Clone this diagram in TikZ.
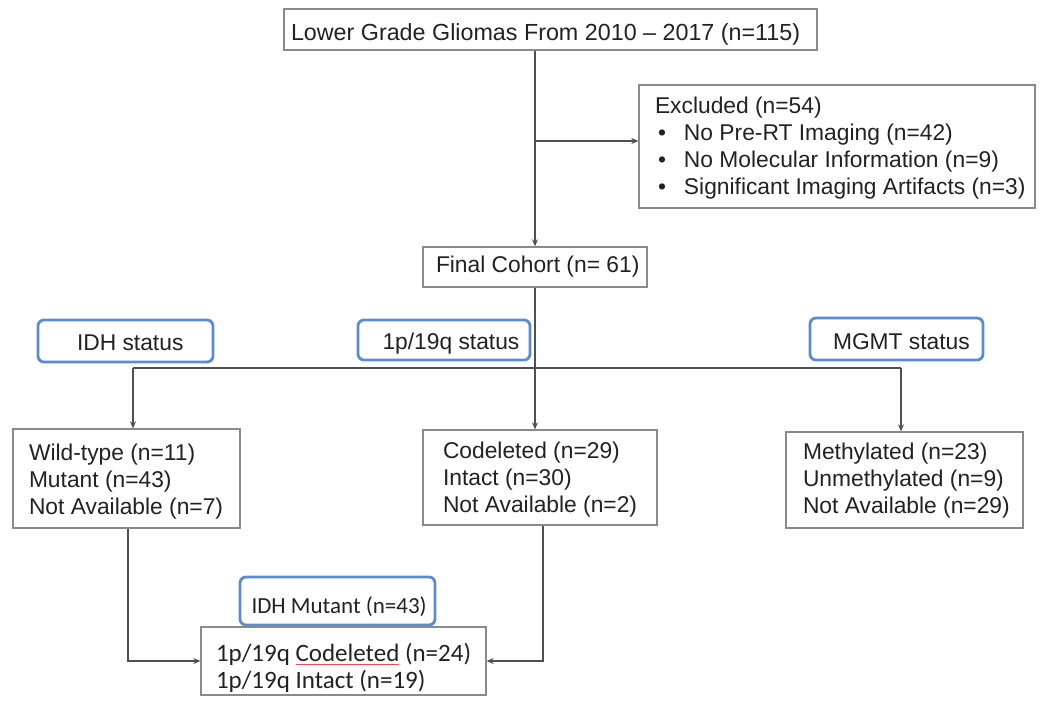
\documentclass[tikz,border=0pt]{standalone}
\usepackage{fontspec}
\setmainfont{Liberation Sans}
\newfontfamily\calfont{Carlito}
\usetikzlibrary{arrows.meta}
\definecolor{txt}{HTML}{222222}
\definecolor{boxc}{HTML}{8A8A8A}
\definecolor{linec}{HTML}{505050}
\definecolor{bluec}{HTML}{5B8BD6}
\definecolor{sq}{HTML}{E05050}
\newcommand\cont[3]{\raisebox{#2}[0pt][0pt]{\makebox[#1][l]{\begin{tabular}[t]{@{}l@{}}#3\end{tabular}}}}
\newcommand\blt{\makebox[29pt][l]{\hspace{3pt}\textbullet}}
\newcommand\squig[1]{\setbox0\hbox{#1}\rlap{\textcolor{sq}{\rule[-4pt]{\wd0}{0.9pt}}}\box0\relax}
\begin{document}
\begin{tikzpicture}[x=1pt,y=-1pt,
  every node/.style={font=\fontsize{22.8}{27}\selectfont, text=txt, inner sep=0pt},
  plainbox/.style={draw=boxc, line width=1.3pt, fill=white},
  bluebox/.style={draw=bluec, line width=2.8pt, rounded corners=6pt, fill=white},
  conn/.style={draw=linec, line width=1.2pt},
  arr/.style={conn, -{Stealth[length=7pt,width=6pt]}}]
\useasboundingbox (0,0) rectangle (1050,704);

\node[plainbox, minimum width=533pt, minimum height=41pt, font=\fontsize{23.3}{27}\selectfont] (top) at (550.5,29.5)
  {\cont{519pt}{-10.5pt}{Lower Grade Gliomas From 2010 – 2017 (n=115)}};
\node[plainbox, minimum width=396pt, minimum height=123pt] (excl) at (837,146.5)
  {\cont{364pt}{33.5pt}{Excluded (n=54)\\ \blt No Pre-RT Imaging (n=42)\\ \blt No Molecular Information (n=9)\\ \blt Significant Imaging Artifacts (n=3)}};
\node[plainbox, minimum width=224pt, minimum height=40pt] (final) at (535,267)
  {\cont{198pt}{-5pt}{Final Cohort (n= 61)}};

\node[bluebox, minimum width=175pt, minimum height=42pt] (idh) at (125.5,341)
  {\cont{97pt}{-9pt}{IDH status}};
\node[bluebox, minimum width=172pt, minimum height=40pt] (p19) at (444,340)
  {\cont{123pt}{-9pt}{1p/19q status}};
\node[bluebox, minimum width=173pt, minimum height=42pt] (mgmt) at (896.5,339)
  {\cont{127pt}{-10pt}{MGMT status}};

\node[plainbox, minimum width=227pt, minimum height=99pt] (wild) at (126.5,478.5)
  {\cont{195pt}{18.5pt}{Wild-type (n=11)\\ Mutant (n=43)\\ Not Available (n=7)}};
\node[plainbox, minimum width=234pt, minimum height=95pt] (cod) at (540,477.5)
  {\cont{194pt}{19.5pt}{Codeleted (n=29)\\ Intact (n=30)\\ Not Available (n=2)}};
\node[plainbox, minimum width=237pt, minimum height=96pt] (meth) at (904.5,480)
  {\cont{203pt}{21pt}{Methylated (n=23)\\ Unmethylated (n=9)\\ Not Available (n=29)}};

\node[bluebox, minimum width=195pt, minimum height=48pt, font=\calfont\fontsize{23}{27}\selectfont] (idhm) at (337.5,601)
  {\cont{172pt}{-12pt}{IDH Mutant (n=43)}};
\node[plainbox, minimum width=285pt, minimum height=68pt, font=\calfont\fontsize{25}{27.5}\selectfont] (bot) at (343.5,661)
  {\cont{255pt}{0pt}{1p/19q \squig{Codeleted} (n=24)\\ 1p/19q Intact (n=19)}};

\coordinate (exs) at (535,141);
\coordinate (hL) at (133,368);
\coordinate (hM) at (535,368);
\coordinate (hR) at (901,368);

\draw[arr] (top.south -| final.north) -- (final.north);
\draw[arr] (exs) -- (exs -| excl.west);
\draw[conn] (final.south) -- (hM);
\draw[conn] (hL) -- (hR);
\draw[arr] (hL) -- (hL |- wild.north);
\draw[arr] (hM) -- (hM |- cod.north);
\draw[arr] (hR) -- (hR |- meth.north);
\draw[arr] ([xshift=1.5pt]wild.south) |- (bot.west);
\draw[arr] ([xshift=3pt]cod.south) |- (bot.east);
\end{tikzpicture}
\end{document}
